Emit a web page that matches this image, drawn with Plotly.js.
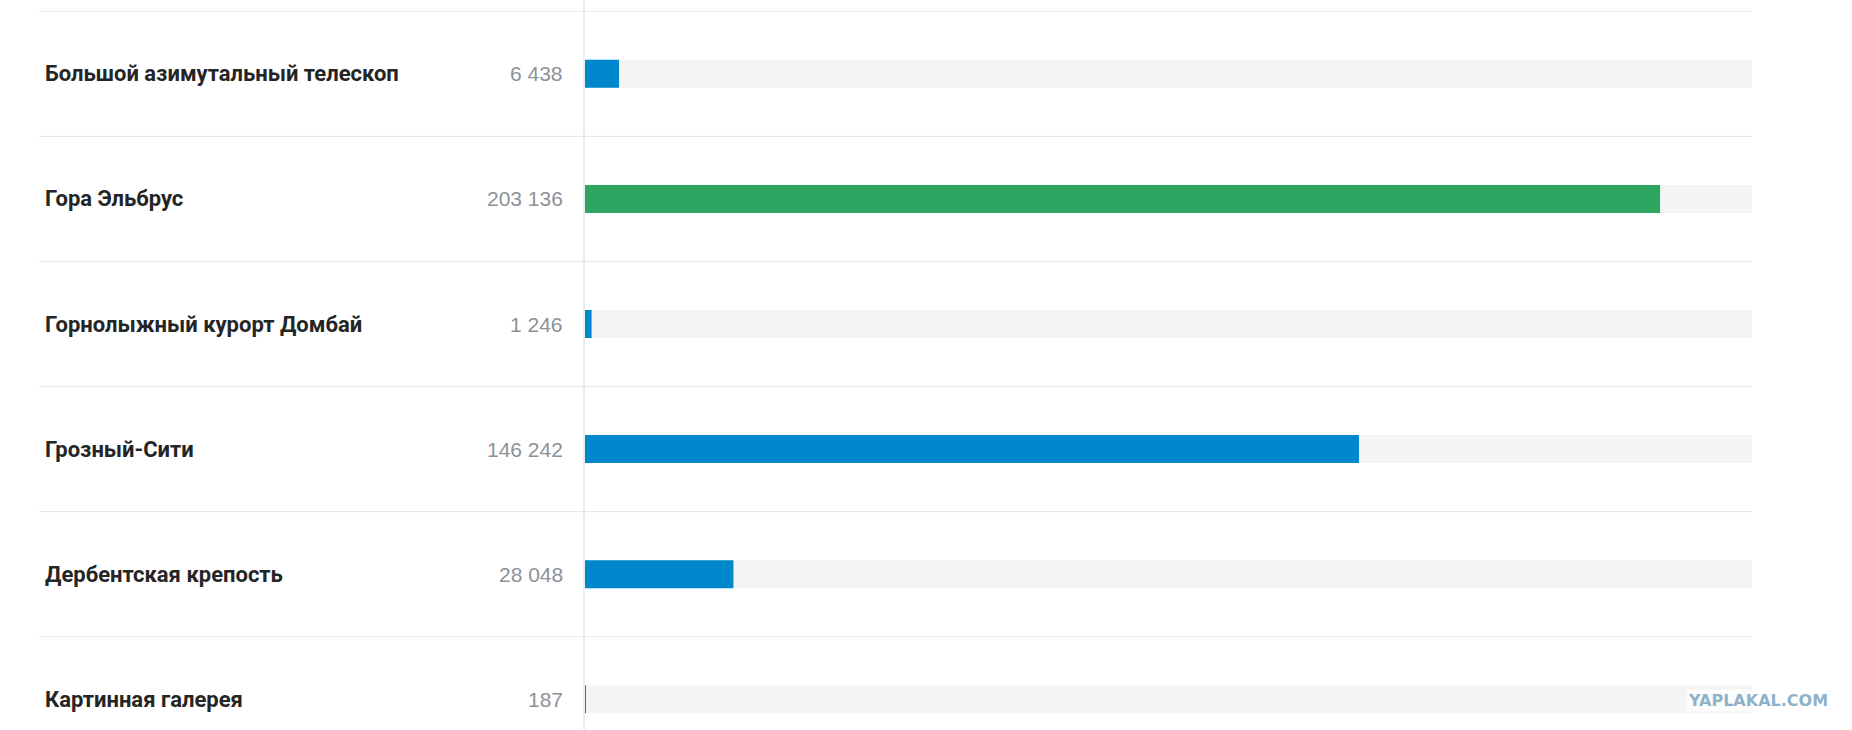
<!DOCTYPE html>
<html>
<head>
<meta charset="utf-8">
<script src="https://cdn.plot.ly/plotly-3.0.1.min.js"></script>
<style>
  html, body { margin: 0; padding: 0; background: #ffffff; }
  #chart { width: 1852px; height: 730px; }
</style>
</head>
<body>
<div id="chart"></div>
<script>
// ---- data ----
const categories = [
  "Большой азимутальный телескоп",
  "Гора Эльбрус",
  "Горнолыжный курорт Домбай",
  "Грозный-Сити",
  "Дербентская крепость",
  "Картинная галерея"
];
const values = [6438, 203136, 1246, 146242, 28048, 187];
const valueLabels = ["6 438", "203 136", "1 246", "146 242", "28 048", "187"];
const highlighted = ["Гора Эльбрус"];
const scaleMax = 220500;

// ---- style ----
const BLUE = "#0088cc";
const GREEN = "#2ca660";
const TRACK = "#f4f4f4";
const SEP = "#e9e9e9";

const W = 1852, H = 730;
const marginL = 585, marginR = 100;
const plotW = W - marginL - marginR;
const rowH = 125.1, firstCenter = 73.8;
const yTop = -firstCenter / rowH;
const yBottom = (H - firstCenter) / rowH;

const barColors = categories.map(c => highlighted.includes(c) ? GREEN : BLUE);

const traces = [
  {
    type: "bar", orientation: "h",
    y: categories, x: categories.map(() => scaleMax),
    width: 0.224, marker: { color: TRACK },
    hoverinfo: "skip", showlegend: false
  },
  {
    type: "bar", orientation: "h",
    y: categories, x: values,
    width: 0.224, marker: { color: barColors },
    hoverinfo: "x+y", showlegend: false
  }
];

const toPaperX = px => (px - marginL) / plotW;

const shapes = [];
for (let i = 0; i <= categories.length; i++) {
  shapes.push({
    type: "line", xref: "paper", yref: "y",
    x0: toPaperX(39), x1: 1, y0: i - 0.5, y1: i - 0.5,
    line: { color: SEP, width: 1.2 }, layer: "below"
  });
}
shapes.push({
  type: "line", xref: "paper", yref: "paper",
  x0: -0.0008, x1: -0.0008, y0: 0, y1: 1,
  line: { color: "#e2e2e2", width: 1.2 }, layer: "above"
});

const annotations = [];
categories.forEach((c, i) => {
  annotations.push({
    xref: "paper", yref: "y", x: toPaperX(43), y: c,
    xanchor: "left", yanchor: "middle", showarrow: false,
    text: "<b>" + c + "</b>",
    font: { family: "Roboto, 'Noto Sans', sans-serif", size: 22, color: "#252525" }
  });
  annotations.push({
    xref: "paper", yref: "y", x: toPaperX(565), y: c,
    xanchor: "right", yanchor: "middle", showarrow: false,
    text: valueLabels[i],
    font: { family: "'Liberation Sans', Arial, sans-serif", size: 21, color: "#8b9299" }
  });
});
annotations.push({
  xref: "paper", yref: "paper", x: toPaperX(1830), y: 1 - 700 / H,
  xanchor: "right", yanchor: "middle", showarrow: false,
  text: "<b>YAPLAKAL.COM</b>",
  bgcolor: "rgba(255,255,255,0.75)", borderpad: 1,
  font: { family: "'DejaVu Sans', sans-serif", size: 16, color: "#8fb2cb" }
});

const layout = {
  width: W, height: H,
  margin: { l: marginL, r: marginR, t: 0, b: 0, pad: 0 },
  paper_bgcolor: "#ffffff", plot_bgcolor: "#ffffff",
  barmode: "overlay",
  xaxis: {
    range: [0, scaleMax], showgrid: false, zeroline: false,
    showticklabels: false, showline: false, fixedrange: true
  },
  yaxis: {
    type: "category", range: [yBottom, yTop],
    showgrid: false, zeroline: false, showticklabels: false,
    showline: false, fixedrange: true
  },
  shapes: shapes,
  annotations: annotations,
  showlegend: false
};

Plotly.newPlot("chart", traces, layout, { displayModeBar: false, staticPlot: true });
</script>
</body>
</html>
